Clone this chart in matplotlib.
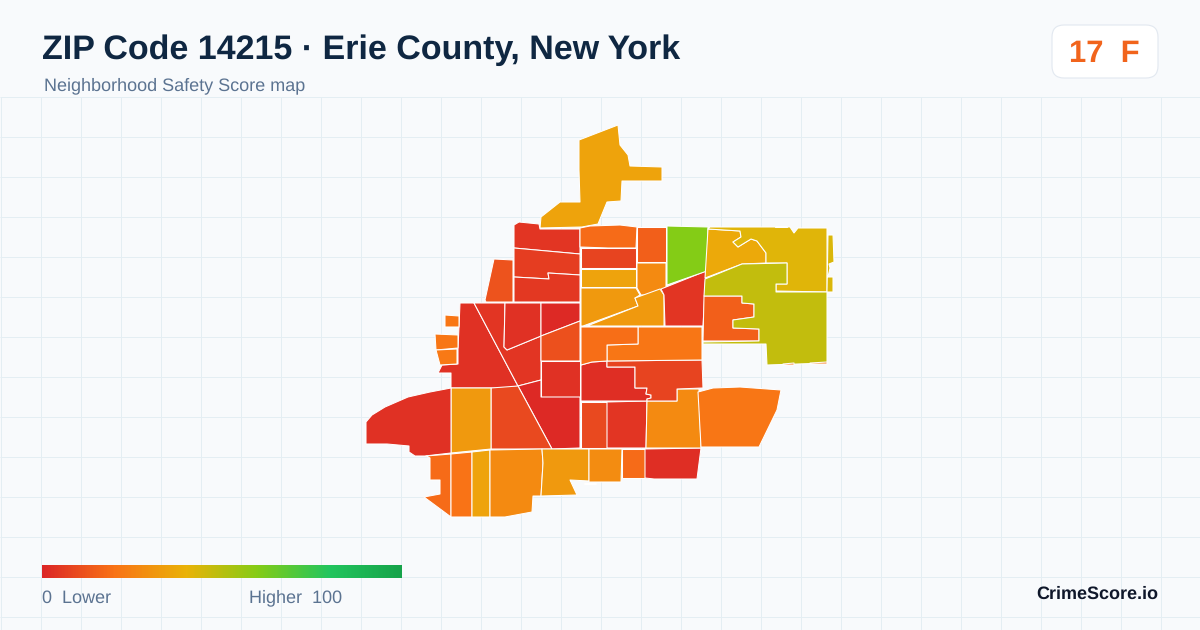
import numpy as np
import matplotlib
matplotlib.use("Agg")
import matplotlib.pyplot as plt
from matplotlib.colors import LinearSegmentedColormap, Normalize
from matplotlib.patches import FancyBboxPatch, Polygon

plt.rcParams['font.family'] = ['Liberation Sans', 'DejaVu Sans']
plt.rcParams['text.hinting'] = 'none'
plt.rcParams['text.hinting_factor'] = 1

TITLE = "ZIP Code 14215 · Erie County, New York"
SUBTITLE = "Neighborhood Safety Score map"
GRADE = "17  F"
LEGEND_LOW = "0  Lower"
LEGEND_HIGH = "Higher  100"
BRAND = "CrimeScore.io"

SCALE_STOPS = [0, 20, 40, 60, 80, 100]
SCALE_COLORS = ["#dc2626", "#f97316", "#eab308", "#84cc16", "#22c55e", "#16a34a"]

# tract outlines in map pixels, each followed by its score
north = [(579,140),(618,125),(620,145),(628,155),(630,166),(662,167),(662,181),(622,181),(621,201),(607,202),(598,224),(582,227),(540,228),(541,217),(560,202),(580,202),(579,170)]
north_score = 35
nw1 = [(514,225),(519,222),(539,224),(540,229),(580,229),(580,254),(514,248)]
nw1_score = 4
nw2 = [(514,248),(580,254),(580,275),(548,273),(549,279),(532,278),(514,277)]
nw2_score = 6
nw3 = [(514,277),(532,278),(549,279),(548,273),(580,275),(580,302),(514,302)]
nw3_score = 5
nw_west = [(494,259),(513,260),(513,302),(486,302),(485,300)]
nw_west_score = 12
big_west = [(460,303),(474,303),(518,386),(508,388),(451,388),(451,373),(438,373),(442,365),(458,364),(458,348),(459,327)]
big_west_score = 3
isle1 = [(445,315),(459,316),(459,327),(445,327)]
isle1_score = 21
isle2 = [(435,334),(458,335),(458,348),(436,350)]
isle2_score = 21
isle3 = [(436,350),(457,349),(457,364),(440,365)]
isle3_score = 22
wedge = [(474,303),(505,303),(504,347),(507,350),(541,336),(541,380),(518,386)]
wedge_score = 4
mid1 = [(505,303),(541,303),(541,336),(507,350),(504,347)]
mid1_score = 3
mid2 = [(541,303),(580,303),(580,321),(541,336)]
mid2_score = 1
mid3 = [(541,336),(580,321),(580,361),(541,361)]
mid3_score = 11
mid4 = [(541,361),(580,361),(580,397),(541,397)]
mid4_score = 3
diag_red = [(518,386),(541,380),(541,397),(580,397),(580,448),(552,449)]
diag_red_score = 1
diag_orange = [(491,388),(518,386),(552,449),(491,449)]
diag_orange_score = 9
gold_west = [(451,388),(491,388),(491,449),(451,453)]
gold_west_score = 32
far_west = [(451,388),(430,392),(408,397),(385,407),(372,415),(366,422),(366,444),(387,444),(409,446),(409,452),(415,456),(425,456),(451,453)]
far_west_score = 3
s1 = [(426,456),(451,454),(451,517),(424,497),(440,494),(440,480),(430,480),(430,458)]
s1_score = 18
s2 = [(451,454),(472,452),(472,517),(451,517)]
s2_score = 20
s3 = [(472,452),(490,450),(490,517),(472,517)]
s3_score = 35
s4 = [(490,450),(542,449),(543,463),(541,496),(533,496),(532,512),(505,517),(490,517)]
s4_score = 27
s5 = [(542,449),(589,449),(589,481),(570,480),(577,495),(541,496),(543,463)]
s5_score = 32
s6 = [(589,449),(622,449),(621,482),(589,482)]
s6_score = 28
s7 = [(622,449),(645,449),(645,478),(622,478)]
s7_score = 18
s8 = [(645,449),(701,448),(697,479),(654,479),(645,478)]
s8_score = 2
c1 = [(581,402),(607,402),(607,448),(581,448)]
c1_score = 9
c2 = [(607,402),(647,401),(646,448),(607,448)]
c2_score = 4
c3 = [(647,401),(677,401),(677,389),(699,389),(701,448),(646,448)]
c3_score = 27
east = [(698,392),(713,388),(740,387),(781,390),(777,410),(759,447),(730,447),(701,447)]
east_score = 21
c4 = [(581,365),(592,362),(607,361),(607,367),(635,367),(635,388),(647,388),(646,394),(651,395),(651,398),(647,399),(647,401),(581,401)]
c4_score = 2
c5 = [(607,361),(702,360),(703,388),(677,389),(677,401),(647,401),(647,399),(651,398),(651,395),(646,394),(647,388),(635,388),(635,367),(607,367)]
c5_score = 8
c6 = [(607,345),(638,344),(638,327),(702,327),(702,360),(607,361)]
c6_score = 21
c7 = [(581,327),(638,327),(638,344),(607,345),(607,361),(592,362),(581,365)]
c7_score = 19
n1 = [(580,228),(590,226),(620,225),(637,227),(636,248),(608,248),(580,247)]
n1_score = 18
n2 = [(581,248),(636,248),(636,268),(581,268)]
n2_score = 8
n3 = [(581,269),(636,269),(636,287),(581,287)]
n3_score = 35
n4 = [(581,288),(636,288),(640,295),(635,298),(638,306),(583,326),(581,326)]
n4_score = 32
n5 = [(637,227),(666,227),(666,262),(637,262)]
n5_score = 15
n6 = [(637,263),(666,263),(666,295),(641,295),(637,288)]
n6_score = 27
n7 = [(587,326),(638,306),(635,298),(660,289),(664,295),(664,326)]
n7_score = 32
n8 = [(661,289),(706,271),(703,326),(665,326),(664,295)]
n8_score = 4
green = [(667,226),(708,227),(707,271),(667,285)]
green_score = 60
ne_gold = [(708,229),(740,231),(741,237),(733,242),(738,247),(751,239),(757,241),(766,253),(766,263),(742,264),(705,278)]
ne_gold_score = 37
ne_yellow = [(710,227),(773,227),(790,227),(794,233),(798,228),(827,228),(827,292),(776,291),(776,284),(787,284),(787,263),(766,263),(766,253),(757,241),(751,239),(738,247),(733,242),(741,237),(740,231),(708,229)]
ne_yellow_score = 42
sliver = [(828,235),(833,235),(834,262),(829,264),(830,268),(828,277),(833,277),(833,292),(827,292)]
sliver_score = 43
e_orange = [(704,296),(742,296),(742,303),(754,304),(754,317),(733,320),(733,328),(759,329),(759,341),(703,341)]
e_orange_score = 15
lime = [(705,279),(742,264),(787,263),(787,284),(776,284),(776,292),(827,292),(827,363),(767,365),(766,344),(703,344),(703,342),(759,341),(759,329),(733,328),(733,320),(754,317),(754,304),(742,303),(742,296),(704,296)]
lime_score = 48
trace1 = [(783,364),(794,363),(794,365),(783,365)]
trace1_score = 20
trace2 = [(810,363),(827,362),(827,364),(810,364)]
trace2_score = 20
trace3 = [(775,226),(787,226),(787,227),(775,227)]
trace3_score = 95
trace4 = [(584,483),(596,483),(596,484),(584,484)]
trace4_score = 30

OUTLINES = [north,nw1,nw2,nw3,nw_west,big_west,isle1,isle2,isle3,wedge,mid1,mid2,mid3,mid4,diag_red,diag_orange,gold_west,far_west,s1,s2,s3,s4,s5,s6,s7,s8,c1,c2,c3,east,c4,c5,c6,c7,n1,n2,n3,n4,n5,n6,n7,n8,green,ne_gold,ne_yellow,sliver,e_orange,lime,trace1,trace2,trace3,trace4]
SCORES = [north_score,nw1_score,nw2_score,nw3_score,nw_west_score,big_west_score,isle1_score,isle2_score,isle3_score,wedge_score,mid1_score,mid2_score,mid3_score,mid4_score,diag_red_score,diag_orange_score,gold_west_score,far_west_score,s1_score,s2_score,s3_score,s4_score,s5_score,s6_score,s7_score,s8_score,c1_score,c2_score,c3_score,east_score,c4_score,c5_score,c6_score,c7_score,n1_score,n2_score,n3_score,n4_score,n5_score,n6_score,n7_score,n8_score,green_score,ne_gold_score,ne_yellow_score,sliver_score,e_orange_score,lime_score,trace1_score,trace2_score,trace3_score,trace4_score]

BG = "#f8fafc"
GRID = "#e4eef3"
MUTED = "#5b7391"
INK = "#0f2742"

cmap = LinearSegmentedColormap.from_list("score", [(s / 100, c) for s, c in zip(SCALE_STOPS, SCALE_COLORS)])
norm = Normalize(0, 100)

fig = plt.figure(figsize=(12, 6.3), dpi=100, facecolor=BG)
ax = fig.add_axes([0, 0, 1, 1])
ax.set_xlim(0, 1200)
ax.set_ylim(630, 0)
ax.axis("off")

ax.vlines(np.arange(0, 1200, 40) + 0.5, 97, 630, color=GRID, lw=0.72, zorder=1)
ax.hlines(np.arange(97, 630, 40) - 0.5, 0, 1200, color=GRID, lw=0.72, zorder=1)

for outline, score in zip(OUTLINES, SCORES):
    c = cmap(norm(score))
    ax.add_patch(Polygon(outline, closed=True, facecolor=c, edgecolor="white", lw=0.75, joinstyle="round", zorder=3))

ax.text(41.5, 59, TITLE, fontsize=24.25, fontweight="bold", color=INK, va="baseline", ha="left", zorder=5)
ax.text(44, 90.5, SUBTITLE, fontsize=12.9, color=MUTED, va="baseline", ha="left", zorder=5)

ax.add_patch(FancyBboxPatch((1064, 37), 82, 29, boxstyle="round,pad=12,rounding_size=12", facecolor="white", edgecolor="#e2e8f0", lw=0.8, zorder=4))
ax.text(1104, 62, GRADE, fontsize=22.6, fontweight="bold", color="#f1641c", va="baseline", ha="center", zorder=5)

gradient = np.linspace(0, 1, 360).reshape(1, -1)
ax.imshow(gradient, cmap=cmap, extent=(42, 402, 578, 565), aspect="auto", zorder=4)
ax.set_xlim(0, 1200)
ax.set_ylim(630, 0)

ax.text(42, 602.5, LEGEND_LOW, fontsize=12.7, color=MUTED, va="baseline", ha="left", zorder=5)
ax.text(249, 602.5, LEGEND_HIGH, fontsize=12.7, color=MUTED, va="baseline", ha="left", zorder=5)
ax.text(1158, 599, BRAND, fontsize=13.2, fontweight="bold", color="#0f172a", va="baseline", ha="right", zorder=5)

fig.savefig("out.png", dpi=100, facecolor=BG)
